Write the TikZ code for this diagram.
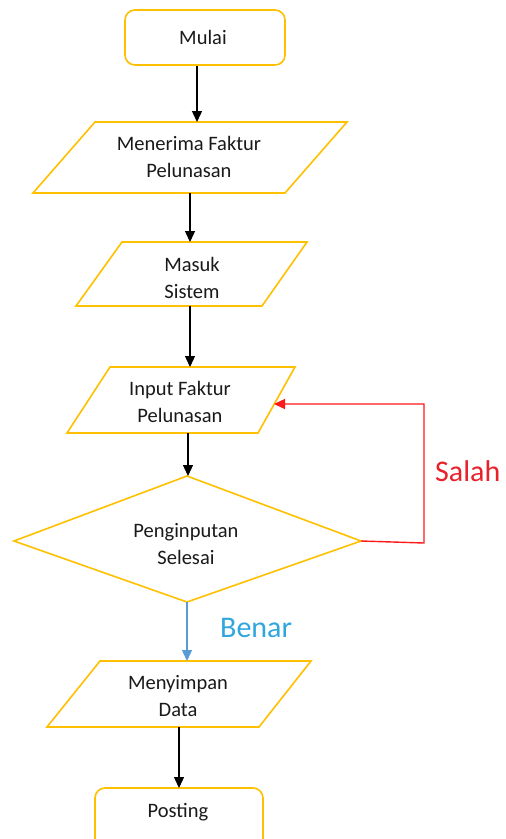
\documentclass[tikz,border=0pt]{standalone}
\usepackage{fontspec}
\setmainfont{Carlito}
\usetikzlibrary{arrows.meta}
\definecolor{boxgold}{HTML}{FFC000}
\definecolor{loopred}{HTML}{FF1A1A}
\definecolor{labelred}{HTML}{E8212B}
\definecolor{labelblue}{HTML}{2FA7DE}
\definecolor{flowblue}{HTML}{5B9BD5}
\definecolor{textgray}{HTML}{1A1A1A}

\begin{document}
\begin{tikzpicture}[x=1pt,y=-1pt,
  outline/.style={draw=boxgold, line width=1.6pt, line join=miter},
  txt/.style={font=\fontsize{20.5}{27.5}\selectfont, text=textgray, align=center, inner sep=0pt},
  flow/.style={draw=black, line width=1.4pt, -{Triangle[length=11pt,width=10pt]}},
  bigword/.style={font=\fontsize{30}{30}\selectfont, inner sep=0pt, anchor=base west},
]
\clip (0,0) rectangle (506,839);
\fill[white] (0,0) rectangle (506,839);

% start terminal
\node[outline, rounded corners=10pt, minimum width=160pt, minimum height=55pt, txt] (mulai) at (205,37.5) {};
\node[txt] (mulaitxt) at (203,37) {Mulai};

% input / process parallelograms
\draw[outline] (95,122) -- (347,122) -- (285,193) -- (33,193) -- cycle;
\node[txt] (terima) at (189,157) {Menerima Faktur\\Pelunasan};
\coordinate (terimaN) at (197,122);
\coordinate (terimaS) at (190,193);

\draw[outline] (122,242) -- (307,242) -- (262,306) -- (76,306) -- cycle;
\node[txt] (masuk) at (192,278) {Masuk\\Sistem};
\coordinate (masukN) at (190,242);
\coordinate (masukS) at (190,306);

\draw[outline] (110,367) -- (295,367) -- (258,433) -- (67,433) -- cycle;
\node[txt] (input) at (180,402) {Input Faktur\\Pelunasan};
\coordinate (inputN) at (190,367);
\coordinate (inputS) at (188,433);
\coordinate (inputE) at (274,404);

% decision
\coordinate (decN) at (187,476);
\coordinate (decE) at (361,541);
\coordinate (decS) at (187,602);
\coordinate (decW) at (14,541);
\draw[outline] (decN) -- (decE) -- (decS) -- (decW) -- cycle;
\node[txt] (cek) at (186,544) {Penginputan\\Selesai};

\draw[outline] (100,661) -- (311,661) -- (259,727) -- (47,727) -- cycle;
\node[txt] (simpan) at (178,696) {Menyimpan\\Data};
\coordinate (simpanN) at (187,661);
\coordinate (simpanS) at (179,727);

% end terminal
\draw[outline, rounded corners=10pt] (95,788) rectangle (263,855);
\node[txt] (posting) at (178,812) {Posting};
\coordinate (postingN) at (179,788);

% connectors
\draw[flow] (mulai.south -| terimaN) -- (terimaN);
\draw[flow] (terimaS) -- (masukN);
\draw[flow] (masukS) -- (inputN);
\draw[flow] (inputS) -- (decN -| inputS);
\draw[flow, draw=flowblue] (decS) -- (simpanN);
\draw[flow] (simpanS) -- (postingN);
\coordinate (loopB) at (424,543);
\draw[flow, draw=loopred] (decE) -- (loopB) -- (loopB |- inputE) -- (inputE);

% branch labels
\node[bigword, text=labelred] (salah) at (435,481) {Salah};
\node[bigword, text=labelblue] (benar) at (220,637) {Benar};
\end{tikzpicture}
\end{document}
